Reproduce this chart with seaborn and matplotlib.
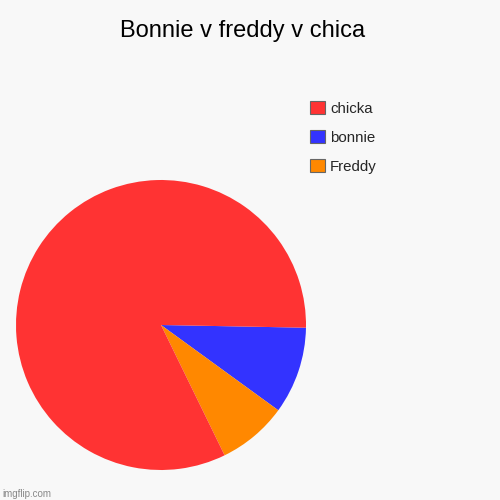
import matplotlib
matplotlib.use('Agg')
import matplotlib.pyplot as plt
import matplotlib.patches as mpatches
import seaborn as sns

# chart data (clockwise from the 3 o'clock edge)
labels = ['bonnie', 'Freddy', 'chicka']
values = [10, 8, 85]
colors = ['#3333ff', '#ff8800', '#ff3333']
legend_order = ['chicka', 'bonnie', 'Freddy']

sns.set_theme(style='white')
plt.rcParams['font.family'] = ['Liberation Sans', 'DejaVu Sans']

bg = '#f8f8f8'
fig = plt.figure(figsize=(5, 5), dpi=100, facecolor=bg)
ax = fig.add_axes([0.032, 0.06, 0.58, 0.58])
ax.set_facecolor(bg)

ax.pie(values, colors=colors, startangle=-1.07, counterclock=False,
       radius=1, wedgeprops={'linewidth': 0})
ax.set_xlim(-1, 1)
ax.set_ylim(-1, 1)
ax.set_aspect('equal')
ax.axis('off')

fig.text(0.486, 0.937, 'Bonnie v freddy v chica', ha='center', va='center',
         fontsize=17, color='#000000')

handles = [mpatches.Patch(facecolor=colors[labels.index(l)], edgecolor='#666666',
                          linewidth=0.8, label=l) for l in legend_order]
fig.legend(handles=handles, loc='upper left', bbox_to_anchor=(0.607, 0.811),
           frameon=False, fontsize=10.8, handlelength=1.05, handleheight=1.05,
           handletextpad=0.32, labelspacing=0.93, borderaxespad=0)

fig.text(0.005, 0.012, 'imgflip.com', ha='left', va='center', fontsize=7,
         color='#888888')

fig.savefig('out.png', dpi=100, facecolor=bg)
